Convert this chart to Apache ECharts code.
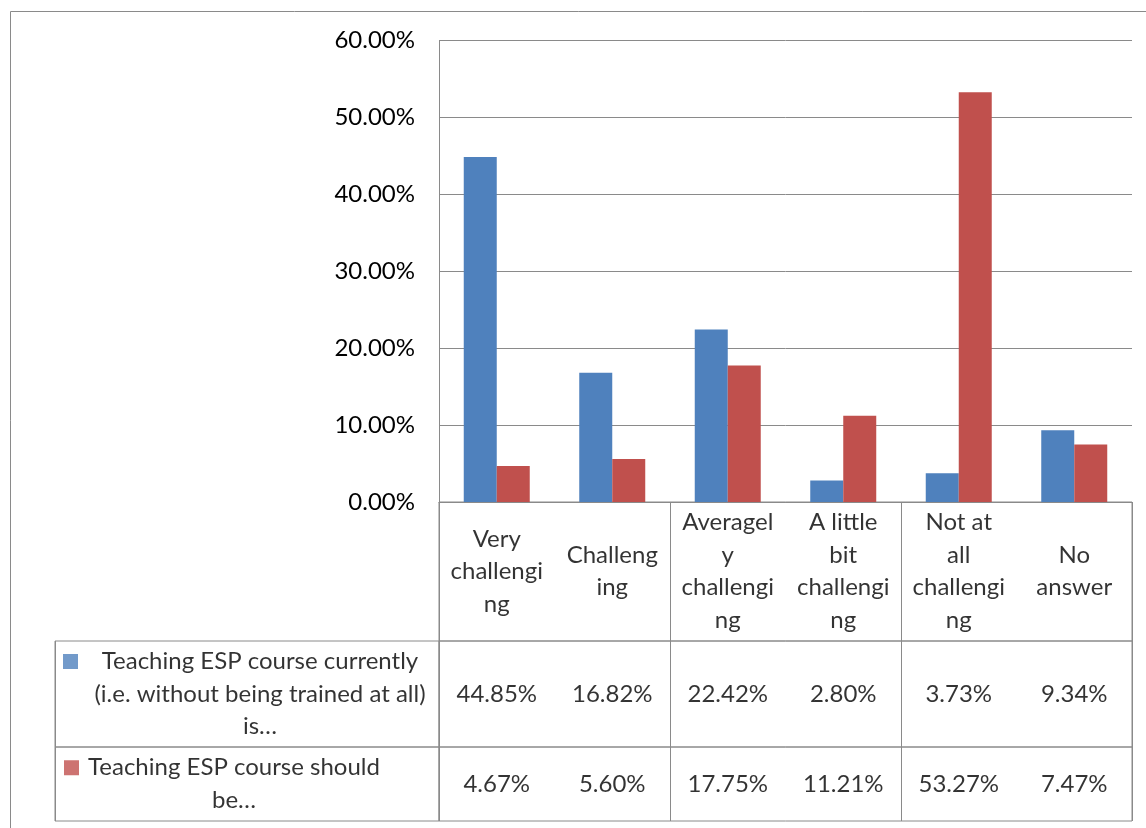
<!DOCTYPE html>
<html>
<head>
<meta charset="utf-8">
<script src="https://cdn.jsdelivr.net/npm/echarts@6/dist/echarts.min.js"></script>
<style>
  html, body { margin: 0; padding: 0; background: #fff; }
  #chart { width: 1146px; height: 828px; }
</style>
</head>
<body>
<div id="chart"></div>
<script>
// Survey categories and the wrapped text shown in the header row of the data table
const categories = ['Very challenging', 'Challenging', 'Averagely challenging', 'A little bit challenging', 'Not at all challenging', 'No answer'];
const categoryLines = [
  ['Very', 'challengi', 'ng'],
  ['Challeng', 'ing'],
  ['Averagel', 'y', 'challengi', 'ng'],
  ['A little', 'bit', 'challengi', 'ng'],
  ['Not at', 'all', 'challengi', 'ng'],
  ['No', 'answer']
];

// Percent of respondents per category
const currentValues = [44.85, 16.82, 22.42, 2.80, 3.73, 9.34];
const shouldValues = [4.67, 5.60, 17.75, 11.21, 53.27, 7.47];

const seriesNames = [
  'Teaching ESP course currently (i.e. without being trained at all) is…',
  'Teaching ESP course should be…'
];
const legendLines = [
  ['Teaching ESP course currently', '(i.e. without being trained at all)', 'is…'],
  ['Teaching ESP course should', 'be…']
];

// Value axis ticks (percent)
const yTicks = [0, 10, 20, 30, 40, 50, 60];

const seriesColors = ['#4F81BD', '#C0504D'];
const lineColor = '#8a8a8a';
const font = 'Lato, "Liberation Sans", sans-serif';
const fontSize = 24;
const lineH = 32.5;
const pct = v => v.toFixed(2) + '%';

const chart = echarts.init(document.getElementById('chart'), null, { renderer: 'canvas' });

// Layout of the plot and of the data table beneath it
const plotLeft = 439, plotRight = 14;
const legendLeft = 55, legendWidth = plotLeft - legendLeft;
const rows = [
  { top: 502, height: 139 },   // category header row
  { top: 641, height: 106 },   // first series values
  { top: 747, height: 74 }     // second series values
];

const grids = [
  { left: plotLeft, right: plotRight, top: 40.5, height: 461.5 },
  { left: plotLeft, right: plotRight, top: rows[0].top, height: rows[0].height },
  { left: plotLeft, right: plotRight, top: rows[1].top, height: rows[1].height },
  { left: plotLeft, right: plotRight, top: rows[2].top, height: rows[2].height },
  { left: legendLeft, width: legendWidth, top: rows[1].top, height: rows[1].height },
  { left: legendLeft, width: legendWidth, top: rows[2].top, height: rows[2].height }
].map((g, i) => Object.assign({
  containLabel: false,
  show: i > 0,
  borderColor: lineColor,
  borderWidth: 1,
  backgroundColor: 'transparent'
}, g));

const tableXAxis = (gridIndex, data) => ({
  gridIndex,
  type: 'category',
  data,
  boundaryGap: true,
  axisLine: { show: false },
  axisTick: { show: false },
  axisLabel: { show: false },
  splitLine: { show: true, lineStyle: { color: lineColor, width: 1 } }
});
const tableYAxis = gridIndex => ({ gridIndex, type: 'value', min: 0, max: 1, show: false });

const xAxes = [
  {
    gridIndex: 0,
    type: 'category',
    data: categories,
    axisLine: { show: true, lineStyle: { color: lineColor, width: 1 } },
    axisTick: { show: false },
    axisLabel: { show: false }
  },
  tableXAxis(1, categories),
  tableXAxis(2, categories),
  tableXAxis(3, categories),
  tableXAxis(4, ['']),
  tableXAxis(5, [''])
];
const yAxes = [
  {
    gridIndex: 0,
    type: 'value',
    min: yTicks[0],
    max: yTicks[yTicks.length - 1],
    interval: yTicks[1] - yTicks[0],
    axisLine: { show: true, lineStyle: { color: lineColor, width: 1 } },
    axisTick: { show: false },
    axisLabel: {
      formatter: pct,
      color: '#000',
      fontFamily: font,
      fontSize,
      margin: 24
    },
    splitLine: { show: true, lineStyle: { color: lineColor, width: 1 } }
  },
  tableYAxis(1), tableYAxis(2), tableYAxis(3), tableYAxis(4), tableYAxis(5)
];

const cellText = {
  color: '#000',
  fontFamily: font,
  fontSize,
  lineHeight: lineH
};

// Text cells of the data table, placed at the centre of each category band
const cellSeries = (gridIndex, texts) => ({
  type: 'scatter',
  xAxisIndex: gridIndex,
  yAxisIndex: gridIndex,
  silent: true,
  symbolSize: 1,
  itemStyle: { color: 'rgba(0,0,0,0)' },
  data: texts.map((t, i) => [i, 0.5]),
  label: Object.assign({
    show: true,
    position: 'inside',
    align: 'center',
    verticalAlign: 'middle',
    formatter: p => texts[p.dataIndex]
  }, cellText)
});

// Legend-key cells: a coloured square followed by the centred series name
const legendCell = (gridIndex, s, gap, width, dx) => {
  const lines = legendLines[s];
  const text = lines.map((ln, i) =>
    (i === 0 ? '{sq|}{g|}' : '{p|}') + '{t|' + ln + '}'
  ).join('\n');
  return {
    type: 'scatter',
    xAxisIndex: gridIndex,
    yAxisIndex: gridIndex,
    silent: true,
    symbolSize: 1,
    itemStyle: { color: 'rgba(0,0,0,0)' },
    data: [[0, 0.5]],
    label: Object.assign({
      show: true,
      position: 'inside',
      offset: [dx, 0],
      formatter: () => text,
      rich: {
        sq: { width: 15, height: 15, backgroundColor: seriesColors[s] },
        g: { width: gap },
        p: { width: 15 + gap },
        t: Object.assign({ width, align: 'center' }, cellText)
      }
    }, cellText)
  };
};

const option = {
  animation: false,
  backgroundColor: '#fff',
  grid: grids,
  xAxis: xAxes,
  yAxis: yAxes,
  graphic: [{
    type: 'rect',
    silent: true,
    shape: { x: 10.5, y: 11.5, width: 1400, height: 1000 },
    style: { fill: 'none', stroke: lineColor, lineWidth: 1 }
  }],
  series: [
    {
      name: seriesNames[0],
      type: 'bar',
      xAxisIndex: 0,
      yAxisIndex: 0,
      data: currentValues,
      barWidth: '28.57%',
      barGap: '0%',
      itemStyle: { color: seriesColors[0] },
      silent: true
    },
    {
      name: seriesNames[1],
      type: 'bar',
      xAxisIndex: 0,
      yAxisIndex: 0,
      data: shouldValues,
      barWidth: '28.57%',
      barGap: '0%',
      itemStyle: { color: seriesColors[1] },
      silent: true
    },
    cellSeries(1, categoryLines.map(l => l.join('\n'))),
    cellSeries(2, currentValues.map(pct)),
    cellSeries(3, shouldValues.map(pct)),
    legendCell(4, 0, 11, 342, 0),
    legendCell(5, 1, 0, 310, -20.5)
  ]
};

chart.setOption(option);
</script>
</body>
</html>
